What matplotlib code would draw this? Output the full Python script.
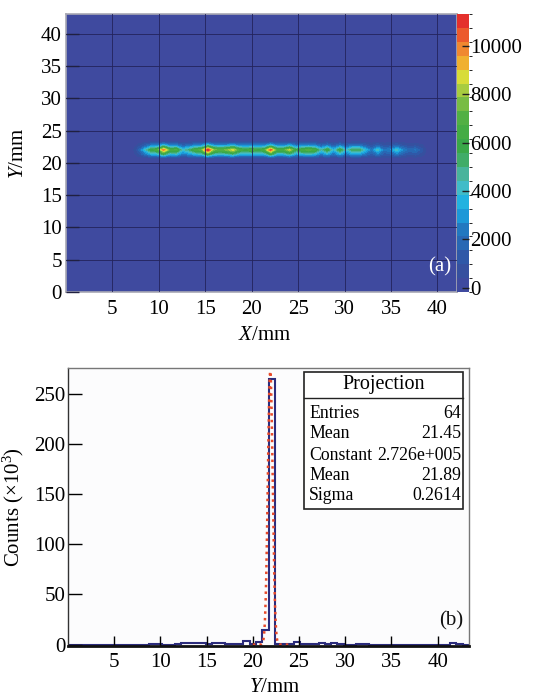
import numpy as np
import matplotlib
matplotlib.use('Agg')
import matplotlib.pyplot as plt
from matplotlib.colors import ListedColormap, BoundaryNorm
from matplotlib.patches import Rectangle
import matplotlib.colorbar as mcolorbar

plt.rcParams['font.family'] = ['Liberation Serif', 'DejaVu Serif']
plt.rcParams['mathtext.fontset'] = 'custom'
plt.rcParams['mathtext.rm'] = 'Liberation Serif'
plt.rcParams['mathtext.it'] = 'Liberation Serif:italic'

# binning of the detector image (64 x 64 bins)
nbins = 64
range_mm = 43.4

# (a) 2D hit map: beam line in Y bins 31..33, X bins from 11 on
line_first_bin = 11
line_counts = [1500, 3800, 6000, 6500, 10000, 6500, 6800, 4000, 5000, 6500,
               7000, 11200, 7500, 7000, 7500, 8800, 6500, 6000, 6500, 6000,
               6500, 10500, 6500, 6500, 8500, 5500, 6500, 7000, 6500, 4200,
               6000, 3500, 6000, 3800, 5500, 5500, 3800, 2200, 4200, 2200,
               2600, 4200, 2600, 1800, 2200, 1200, 0]
row_bins = [31, 32, 33]
row_weight = [0.55, 1.0, 0.4]

# colour levels of the palette
z_min, z_max, n_levels = -170, 11320, 20
palette = ['#3f4a9f', '#36509f', '#2f58a8', '#2868b4', '#2278c0', '#1c98d8',
           '#22b2e0', '#40bcc8', '#48b49c', '#40ac68', '#3aa848', '#44ac44',
           '#52b044', '#78bc44', '#a8cc40', '#d8dc38', '#f0b030', '#f08830',
           '#ec5a2c', '#e4302c']
cbar_ticks = [0, 2000, 4000, 6000, 8000, 10000]

# (b) projection on Y (x10^3 counts), nonzero bins only
proj_bins = [13, 14, 17, 18, 19, 20, 21, 22, 23, 24, 25, 26, 27, 28, 29, 30,
             31, 32, 33, 34, 35, 36, 37, 38, 39, 40, 41, 42, 43, 46, 47, 61, 62]
proj_counts = [0.5, 0.3, 0.5, 1.5, 2.0, 1.5, 1.5, 1.0, 2.0, 1.5, 1.0, 0.5,
               0.5, 4.0, 1.0, 2.5, 15.0, 265.0, 0.5, 0.5, 1.0, 2.5, 1.0, 0.5,
               1.0, 1.5, 1.0, 1.5, 0.5, 1.0, 0.5, 2.0, 0.5]

# gaussian fit result
fit_const = 2.726e5
fit_mean = 21.89
fit_sigma = 0.2614
stats_names = ['Entries', 'Mean', 'Constant', 'Mean', 'Sigma']
stats_vals = ['64', '21.45', '2.726e+005', '21.89', '0.2614']

W, H = 541, 698
fig = plt.figure(figsize=(W / 100, H / 100), dpi=100)

def box(l, t, r, b):
    return [l / W, 1 - b / H, (r - l) / W, (b - t) / H]

# ---------- (a) ----------
ax1 = fig.add_axes(box(66, 14, 457, 292))
cax = fig.add_axes(box(457, 14, 469, 292))

edges = np.linspace(0, range_mm, nbins + 1)
centers = 0.5 * (edges[:-1] + edges[1:])
Z = np.zeros((nbins, nbins))
line = np.array(line_counts, dtype=float)
for r, w in zip(row_bins, row_weight):
    Z[r, line_first_bin:line_first_bin + len(line)] = w * line

levels = np.linspace(z_min, z_max, n_levels + 1)
cmap = ListedColormap(palette)
norm = BoundaryNorm(levels, cmap.N)
ax1.set_facecolor(palette[0])
ax1.contourf(centers, centers, Z, levels=levels, cmap=cmap, norm=norm)
ax1.set_xlim(0, 42.1)
ax1.set_ylim(0, 43.1)
ax1.set_xticks(range(5, 41, 5))
ax1.set_yticks(range(0, 41, 5))
ax1.set_axisbelow(False)
ax1.grid(True, color='#23235a', lw=0.7, alpha=0.85)
ax1.tick_params(axis='x', direction='in', length=0, labelsize=15, pad=6)
ax1.tick_params(axis='y', direction='in', length=9, width=1, color='#202040',
                labelsize=15, pad=3)
for s in ax1.spines.values():
    s.set_color('#a8a8b4')
    s.set_linewidth(1.2)
ax1.set_xlabel(r'$\mathit{X}$/mm', fontsize=15)
ax1.set_ylabel(r'$\mathit{Y}$/mm', fontsize=15)
ax1.xaxis.set_label_coords(0.509, -0.122)
ax1.yaxis.set_label_coords(-0.097, 0.5)
ax1.text(0.985, 0.09, '(a)', color='white', fontsize=15, ha='right',
         va='center', transform=ax1.transAxes)

cb = mcolorbar.ColorbarBase(cax, cmap=cmap, norm=norm, boundaries=levels,
                            ticks=cbar_ticks, drawedges=False)
cb.outline.set_visible(False)
cax.tick_params(direction='in', length=5, width=1, color='#202020',
                labelsize=15, pad=1)
cax.set_yticklabels([str(t) for t in cbar_ticks])

# ---------- (b) ----------
ax2 = fig.add_axes(box(68, 368, 469, 646))
ax2.set_facecolor('#fcfcfd')
counts = np.zeros(nbins)
counts[proj_bins] = proj_counts
ax2.stairs(counts, edges, color='#2c2c7c', lw=1.5, baseline=0)

xf = np.linspace(20.0, 24.0, 800)
yf = fit_const * np.exp(-0.5 * ((xf - fit_mean) / fit_sigma) ** 2) / 1e3
ax2.plot(xf, yf, ':', color='#e84a2a', lw=1.8)

ax2.set_xlim(0, range_mm)
ax2.set_ylim(-1.4, 275.7)
ax2.set_xticks(range(5, 41, 5))
ax2.set_yticks(range(0, 251, 50))
ax2.tick_params(axis='x', direction='in', length=7, width=1, labelsize=15, pad=5)
ax2.tick_params(axis='y', direction='in', length=10, width=1, labelsize=15, pad=2)
for k, s in ax2.spines.items():
    s.set_color('#777777')
    s.set_linewidth(1.0)
ax2.spines['bottom'].set_color('#111111')
ax2.spines['bottom'].set_linewidth(2.0)
ax2.spines['left'].set_color('#333333')
ax2.set_xlabel(r'$\mathit{Y}$/mm', fontsize=15)
ax2.set_ylabel(r'Counts (×10$^{3}$)', fontsize=15)
ax2.xaxis.set_label_coords(0.516, -0.115)
ax2.yaxis.set_label_coords(-0.105, 0.5)
ax2.text(0.985, 0.09, '(b)', color='#111111', fontsize=15, ha='right',
         va='center', transform=ax2.transAxes)

# stats box
bl, bt, br, bb, bd = 304, 372, 463, 509, 398
fig.patches.append(Rectangle((bl / W, 1 - bb / H), (br - bl) / W, (bb - bt) / H,
                             transform=fig.transFigure, facecolor='white',
                             edgecolor='#222222', lw=1.2, zorder=5))
fig.lines.append(plt.Line2D([bl / W, br / W], [1 - bd / H, 1 - bd / H],
                            transform=fig.transFigure, color='#222222', lw=1.0,
                            zorder=6))
fig.text((bl + br) / 2 / W, 1 - 385 / H, 'Projection', fontsize=14.5,
         ha='center', va='center', zorder=7)
row_y = [413, 434, 455, 476, 495]
for name, val, y in zip(stats_names, stats_vals, row_y):
    fig.text(309 / W, 1 - y / H, name, fontsize=12.8, ha='left', va='center',
             zorder=7)
    fig.text(461 / W, 1 - y / H, val, fontsize=12.8, ha='right', va='center',
             zorder=7)

fig.savefig('out.png', dpi=100)
